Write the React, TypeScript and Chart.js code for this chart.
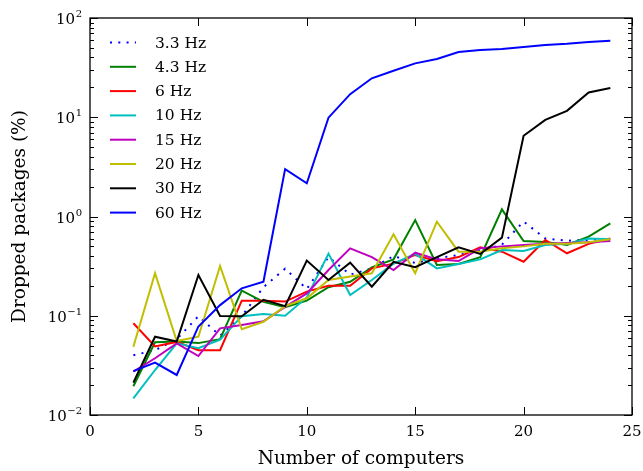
import React, { useEffect, useRef } from 'react';
import { Chart, registerables } from 'chart.js';

Chart.register(...registerables);

const computers = [2, 3, 4, 5, 6, 7, 8, 9, 10, 11, 12, 13, 14, 15, 16, 17, 18, 19, 20, 21, 22, 23, 24];

const hz33 = [0.040, 0.045, 0.058, 0.099, 0.063, 0.099, 0.194, 0.298, 0.186, 0.39, 0.26, 0.30, 0.40, 0.34, 0.38, 0.41, 0.45, 0.52, 0.89, 0.60, 0.57, 0.58, 0.60];
const hz43 = [0.0195, 0.054, 0.055, 0.053, 0.058, 0.179, 0.138, 0.122, 0.142, 0.194, 0.22, 0.307, 0.37, 0.92, 0.325, 0.332, 0.39, 1.18, 0.566, 0.555, 0.516, 0.626, 0.853];
const hz6 = [0.084, 0.049, 0.0545, 0.045, 0.045, 0.142, 0.142, 0.139, 0.175, 0.2, 0.2, 0.30, 0.335, 0.41, 0.355, 0.39, 0.489, 0.442, 0.35, 0.58, 0.426, 0.53, 0.6];
const hz10 = [0.0147, 0.0284, 0.0527, 0.047, 0.0575, 0.099, 0.104, 0.1, 0.153, 0.423, 0.162, 0.229, 0.335, 0.42, 0.30, 0.332, 0.37, 0.46, 0.45, 0.516, 0.53, 0.60, 0.59];
const hz15 = [0.0273, 0.0373, 0.0527, 0.0393, 0.0747, 0.0807, 0.088, 0.123, 0.168, 0.289, 0.478, 0.39, 0.289, 0.432, 0.37, 0.356, 0.478, 0.5, 0.516, 0.53, 0.54, 0.55, 0.565];
const hz20 = [0.0488, 0.268, 0.0557, 0.0615, 0.317, 0.073, 0.087, 0.125, 0.15, 0.229, 0.248, 0.268, 0.662, 0.268, 0.887, 0.442, 0.442, 0.478, 0.5, 0.53, 0.53, 0.55, 0.59];
const hz30 = [0.0212, 0.0615, 0.055, 0.257, 0.0993, 0.099, 0.145, 0.125, 0.36, 0.229, 0.343, 0.196, 0.35, 0.308, 0.39, 0.489, 0.419, 0.612, 6.5, 9.4, 11.6, 17.8, 19.7];
const hz60 = [0.0277, 0.0337, 0.0253, 0.078, 0.128, 0.189, 0.22, 3.0, 2.16, 9.9, 17.1, 24.7, 29.4, 34.9, 38.6, 45.4, 47.6, 48.8, 51, 53.5, 55, 57.3, 59];

const seriesLabels = ['3.3 Hz', '4.3 Hz', '6 Hz', '10 Hz', '15 Hz', '20 Hz', '30 Hz', '60 Hz'];
const seriesValues = [hz33, hz43, hz6, hz10, hz15, hz20, hz30, hz60];
const seriesColors = ['#0000ff', '#008000', '#ff0000', '#00bfbf', '#bf00bf', '#bfbf00', '#000000', '#0000ff'];
const xTicks = [0, 5, 10, 15, 20, 25];
const yDecades = [-2, -1, 0, 1, 2];

const FONT = '"DejaVu Serif", serif';
const DOT = [2, 6.3];

const framePlugin = {
  id: 'framePlugin',
  afterDraw(chart: any) {
    const { ctx, chartArea, scales } = chart;
    const { left, right, top, bottom } = chartArea;
    const xs = scales.x;
    const ys = scales.y;
    ctx.save();
    ctx.strokeStyle = '#000';
    ctx.lineWidth = 1.3;
    ctx.strokeRect(left, top, right - left, bottom - top);
    ctx.lineWidth = 1;
    ctx.beginPath();
    xTicks.forEach((v) => {
      const px = Math.round(xs.getPixelForValue(v)) + 0.5;
      ctx.moveTo(px, bottom);
      ctx.lineTo(px, bottom - 8);
      ctx.moveTo(px, top);
      ctx.lineTo(px, top + 8);
    });
    yDecades.forEach((e) => {
      const py = Math.round(ys.getPixelForValue(Math.pow(10, e))) + 0.5;
      ctx.moveTo(left, py);
      ctx.lineTo(left + 8, py);
      ctx.moveTo(right, py);
      ctx.lineTo(right - 8, py);
      if (e < 2) {
        for (let k = 2; k <= 9; k++) {
          const pm = Math.round(ys.getPixelForValue(k * Math.pow(10, e))) + 0.5;
          ctx.moveTo(left, pm);
          ctx.lineTo(left + 4, pm);
          ctx.moveTo(right, pm);
          ctx.lineTo(right - 4, pm);
        }
      }
    });
    ctx.stroke();

    // y tick labels (10^e)
    ctx.fillStyle = '#000';
    ctx.textBaseline = 'alphabetic';
    yDecades.forEach((e) => {
      const py = ys.getPixelForValue(Math.pow(10, e));
      const expText = e < 0 ? '\u2212' + Math.abs(e) : String(e);
      ctx.font = `10px ${FONT}`;
      const ew = ctx.measureText(expText).width;
      const rightEdge = left - 8;
      ctx.textAlign = 'left';
      ctx.fillText(expText, rightEdge - ew, py - 1);
      ctx.font = `15px ${FONT}`;
      ctx.textAlign = 'right';
      ctx.fillText('10', rightEdge - ew - 0.5, py + 6);
    });

    // legend
    chart.data.datasets.forEach((ds: any, i: number) => {
      const ly = 42.5 + 24.3 * i;
      ctx.save();
      ctx.strokeStyle = ds.borderColor;
      ctx.lineWidth = ds.borderWidth;
      ctx.setLineDash(ds.borderDash || []);
      ctx.beginPath();
      ctx.moveTo(110, ly);
      ctx.lineTo(136, ly);
      ctx.stroke();
      ctx.restore();
      ctx.font = `15.5px ${FONT}`;
      ctx.textAlign = 'left';
      ctx.textBaseline = 'middle';
      ctx.fillStyle = '#000';
      ctx.fillText(ds.label, 155, ly + 1);
    });
    ctx.restore();
  },
};

export default function App() {
  const ref = useRef<HTMLCanvasElement>(null);
  useEffect(() => {
    if (!ref.current) return;
    const n = seriesLabels.length;
    const chart = new Chart(ref.current, {
      type: 'line',
      data: {
        datasets: seriesLabels.map((label, i) => ({
          label,
          data: computers.map((x, j) => ({ x, y: seriesValues[i][j] })),
          borderColor: seriesColors[i],
          backgroundColor: seriesColors[i],
          borderWidth: 2,
          borderDash: i === 0 ? DOT : [],
          pointRadius: 0,
          fill: false,
          tension: 0,
          order: n - i,
        })),
      },
      options: {
        animation: false,
        responsive: false,
        maintainAspectRatio: false,
        layout: { padding: { top: 18, right: 11, left: 0, bottom: 0 } },
        plugins: { legend: { display: false }, tooltip: { enabled: false } },
        scales: {
          x: {
            type: 'linear',
            min: 0,
            max: 25,
            afterBuildTicks: (scale: any) => {
              scale.ticks = xTicks.map((v) => ({ value: v }));
            },
            ticks: {
              font: { family: FONT, size: 15 },
              color: '#000',
              padding: 8,
              autoSkip: false,
              maxRotation: 0,
            },
            grid: { display: false, drawTicks: false },
            border: { display: false },
            title: {
              display: true,
              text: 'Number of computers',
              font: { family: FONT, size: 18.5 },
              color: '#000',
              padding: { top: 0, bottom: 1 },
            },
            afterFit: (scale: any) => {
              scale.height = 56;
              scale.paddingLeft = 0;
              scale.paddingRight = 0;
            },
          },
          y: {
            type: 'logarithmic',
            min: 0.01,
            max: 100,
            ticks: { display: false },
            grid: { display: false, drawTicks: false },
            border: { display: false },
            title: {
              display: true,
              text: 'Dropped packages (%)',
              font: { family: FONT, size: 18.5 },
              color: '#000',
              padding: { top: 9, bottom: 0 },
            },
            afterFit: (scale: any) => {
              scale.width = 90;
              scale.paddingTop = 0;
              scale.paddingBottom = 0;
            },
          },
        },
      },
      plugins: [framePlugin],
    } as any);
    return () => chart.destroy();
  }, []);
  return (
    <div style={{ position: 'absolute', left: 0, top: 0, width: 643, height: 471, background: '#fff' }}>
      <canvas ref={ref} width={643} height={471} style={{ display: 'block' }} />
    </div>
  );
}
